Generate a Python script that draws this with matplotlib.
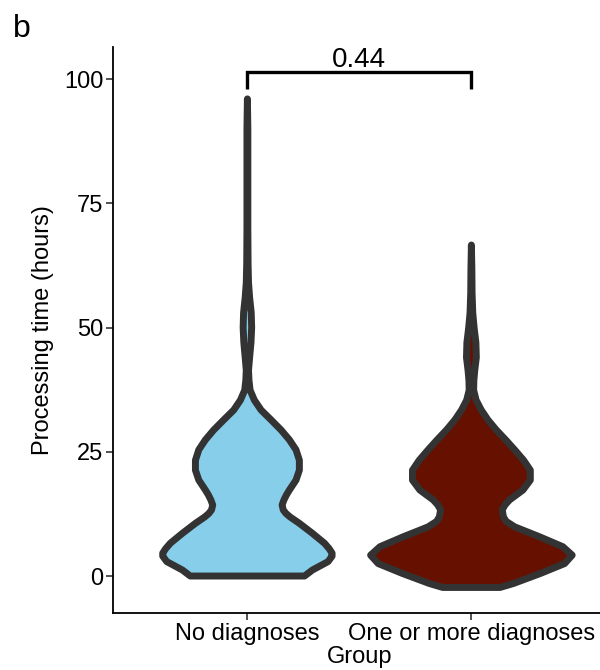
import matplotlib
matplotlib.use('Agg')
import matplotlib.pyplot as plt
import numpy as np

plt.rcParams['font.family'] = ['Liberation Sans', 'DejaVu Sans']

# groups and colours
groups = ['No diagnoses', 'One or more diagnoses']
fill_colors = ['#87CEEB', '#661100']
p_value = '0.44'

# violin outline: processing time (hours) and half width (x units)
no_diag_hours = [0.0, 1.2, 2.9, 4.0, 4.6, 5.5, 6.6, 8.6, 10.6, 11.9, 12.6, 13.3, 14.3, 15.3,
                 16.3, 17.3, 19.3, 21.3, 23.3, 25.4, 27.4, 29.4, 31.4, 33.4, 35.4, 37.4,
                 39.4, 41.4, 44.0, 47.0, 50.0, 53.0, 56.0, 59.0, 63.0, 70.0, 80.0, 90.0,
                 96.0]
no_diag_width = [0.255, 0.29, 0.36, 0.378, 0.378, 0.365, 0.344, 0.29, 0.232, 0.19, 0.172,
                 0.16, 0.155, 0.163, 0.174, 0.1875, 0.217, 0.232, 0.232, 0.217, 0.1875, 0.15,
                 0.106, 0.061, 0.031, 0.012, 0.007, 0.005, 0.01, 0.016, 0.019, 0.017, 0.01,
                 0.005, 0.003, 0.002, 0.002, 0.002, 0.0]

diag_hours = [-2.3, -1.5, 0.5, 2.5, 4.2, 5.9, 7.9, 9.9, 11.0, 11.9, 13.3, 14.3, 15.3, 16.3,
              17.3, 19.3, 21.3, 23.3, 25.4, 27.4, 29.4, 31.4, 33.4, 35.4, 37.4, 39.4, 41.4,
              44.0, 47.0, 50.0, 53.0, 57.0, 62.0, 66.6]
diag_width = [0.128, 0.188, 0.307, 0.416, 0.45, 0.408, 0.304, 0.193, 0.155, 0.143, 0.1375,
              0.15, 0.17, 0.2, 0.23, 0.263, 0.263, 0.233, 0.193, 0.153, 0.111, 0.074, 0.044,
              0.021, 0.01, 0.011, 0.015, 0.022, 0.02, 0.012, 0.006, 0.003, 0.002, 0.0]

profiles = [(no_diag_hours, no_diag_width), (diag_hours, diag_width)]

fig = plt.figure(figsize=(6, 6.7), dpi=100)
ax = fig.add_axes([113 / 600, 57 / 670, 492.8 / 600, 566 / 670])

for i in range(len(groups)):
    hours = np.array(profiles[i][0])
    width = np.array(profiles[i][1])
    center = i + 1
    xs = np.concatenate([center - width, (center + width)[::-1]])
    ys = np.concatenate([hours, hours[::-1]])
    ax.fill(xs, ys, facecolor=fill_colors[i], edgecolor='#333333', linewidth=5,
            joinstyle='round', zorder=2)

# significance bracket
ax.plot([1, 1, 2, 2], [98.0, 101.4, 101.4, 98.0], color='black', linewidth=2.4,
        solid_joinstyle='miter', solid_capstyle='butt', clip_on=False)
ax.text(1.5, 102.5, p_value, ha='center', va='baseline', fontsize=20)

ax.set_xlim(0.4, 2.6)
ax.set_ylim(-7.44, 106.44)
ax.set_xticks([1, 2])
ax.set_xticklabels(groups)
ax.set_yticks([0, 25, 50, 75, 100])
ax.tick_params(labelsize=17, length=5, width=1.2, color='#333333', pad=2, labelcolor='black')

for side in ['top', 'right']:
    ax.spines[side].set_visible(False)
for side in ['left', 'bottom']:
    ax.spines[side].set_linewidth(1.3)

ax.set_xlabel('Group', fontsize=17, labelpad=1)
ax.set_ylabel('Processing time (hours)', fontsize=17, labelpad=7)

fig.text(13 / 600, 1 - 36.7 / 670, 'b', fontsize=23, ha='left', va='baseline')

plt.savefig('out.png', dpi=100)
plt.close()
